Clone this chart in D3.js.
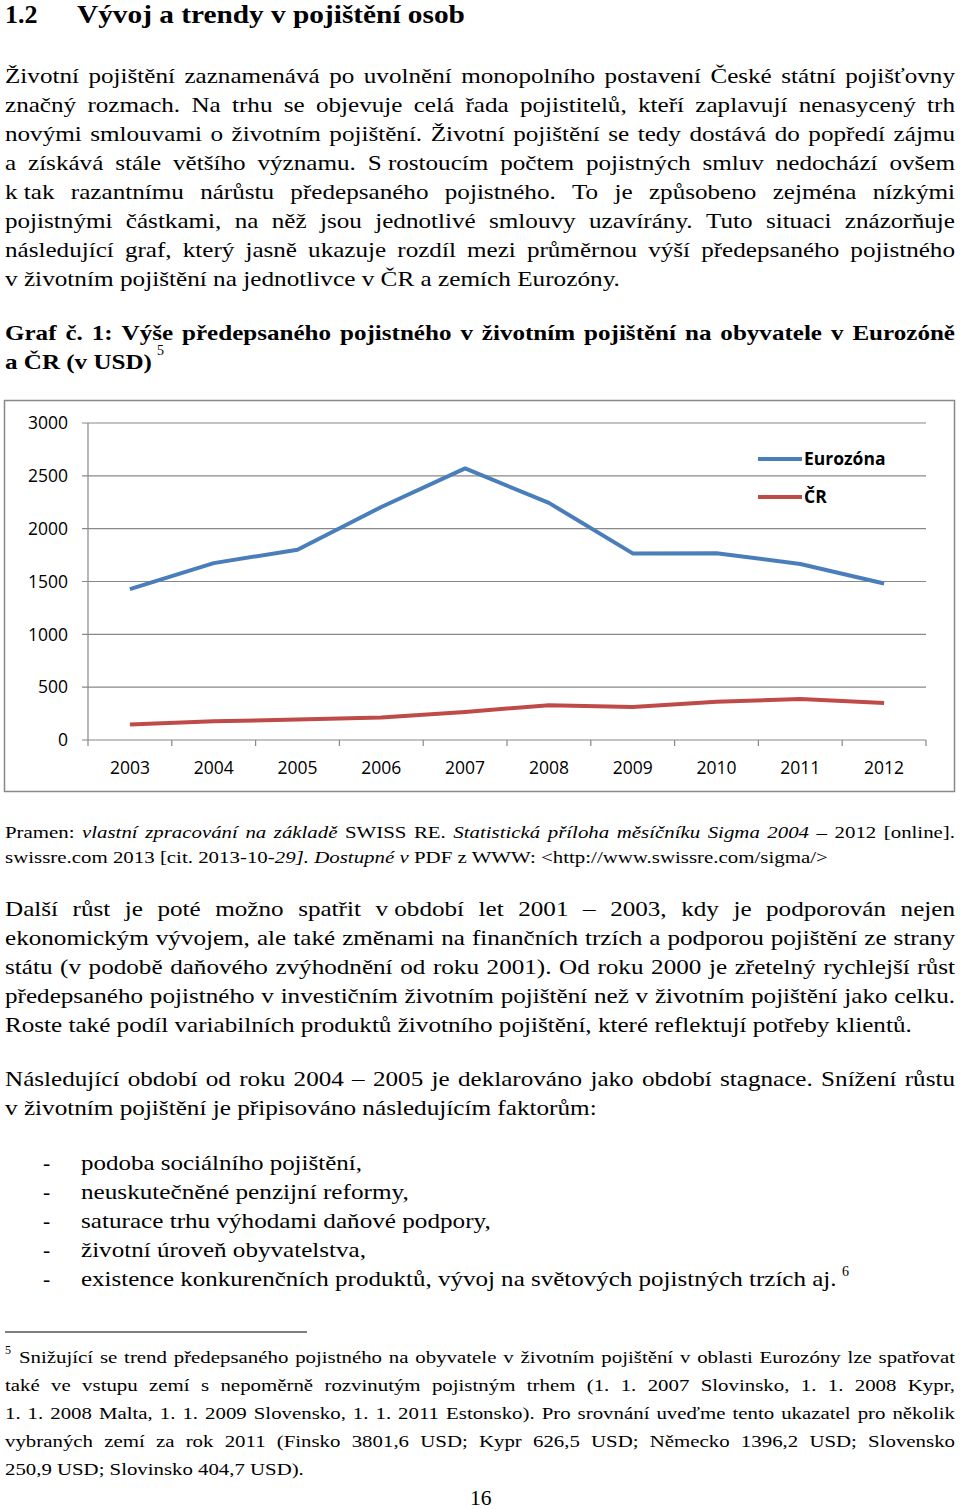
<!DOCTYPE html>
<html>
<head>
<meta charset="utf-8">
<script src="https://cdn.jsdelivr.net/npm/d3@7"></script>
<style>
  body { margin: 0; background: #fff; }
  svg { display: block; }
</style>
</head>
<body>
<svg id="page" width="960" height="1509"></svg>
<script>
// chart data
const years = ['2003', '2004', '2005', '2006', '2007', '2008', '2009', '2010', '2011', '2012']
const eurozona = [1427, 1674, 1801, 2205, 2570, 2244, 1766, 1768, 1665, 1481]
const cr = [146, 177, 193, 212, 266, 329, 313, 361, 389, 351]
const yTicks = [0, 500, 1000, 1500, 2000, 2500, 3000]
const seriesNames = ['Eurozóna', 'ČR']
const seriesColors = ['#4a7ebb', '#be4b48']

// page text, line by line (\u00a0 = space that is not stretched)
const para1 = [
  'Životní pojištění zaznamenává po uvolnění monopolního postavení České státní pojišťovny',
  'značný rozmach. Na trhu se objevuje celá řada pojistitelů, kteří zaplavují nenasycený trh',
  'novými smlouvami o životním pojištění. Životní pojištění se tedy dostává do popředí zájmu',
  'a získává stále většího významu. S\u00a0rostoucím počtem pojistných smluv nedochází ovšem',
  'k\u00a0tak razantnímu nárůstu předepsaného pojistného. To je způsobeno zejména nízkými',
  'pojistnými částkami, na něž jsou jednotlivé smlouvy uzavírány. Tuto situaci znázorňuje',
  'následující graf, který jasně ukazuje rozdíl mezi průměrnou výší předepsaného pojistného',
  'v životním pojištění na jednotlivce v ČR a zemích Eurozóny.'
]
const para2 = [
  'Další růst je poté možno spatřit v\u00a0období let 2001 – 2003, kdy je podporován nejen',
  'ekonomickým vývojem, ale také změnami na finančních trzích a podporou pojištění ze strany',
  'státu (v podobě daňového zvýhodnění od roku 2001). Od roku 2000 je zřetelný rychlejší růst',
  'předepsaného pojistného v investičním životním pojištění než v životním pojištění jako celku.',
  'Roste také podíl variabilních produktů životního pojištění, které reflektují potřeby klientů.'
]
const para3 = [
  'Následující období od roku 2004 – 2005 je deklarováno jako období stagnace. Snížení růstu',
  'v životním pojištění je připisováno následujícím faktorům:'
]
const bullets = [
  'podoba sociálního pojištění,',
  'neuskutečněné penzijní reformy,',
  'saturace trhu výhodami daňové podpory,',
  'životní úroveň obyvatelstva,',
  'existence konkurenčních produktů, vývoj na světových pojistných trzích aj.'
]
const bulletEnds = [362, 409, 491, 366, 837]
const footnote = [
  'Snižující se trend předepsaného pojistného na obyvatele v životním pojištění v oblasti Eurozóny lze spatřovat',
  'také ve vstupu zemí s nepoměrně rozvinutým pojistným trhem (1. 1. 2007 Slovinsko, 1. 1. 2008 Kypr,',
  '1. 1. 2008 Malta, 1. 1. 2009 Slovensko, 1. 1. 2011 Estonsko). Pro srovnání uveďme tento ukazatel pro několik',
  'vybraných zemí za rok 2011 (Finsko 3801,6 USD; Kypr 626,5 USD; Německo 1396,2 USD; Slovensko',
  '250,9 USD; Slovinsko 404,7 USD).'
]

const svg = d3.select('#page')

const serif = "'Liberation Serif', 'Times New Roman', serif"
const fonts = {
  head: { family: serif, size: 26, weight: 'bold' },
  body: { family: serif, size: 21.5, weight: 'normal' },
  cap: { family: serif, size: 21.5, weight: 'bold' },
  small: { family: serif, size: 17.5, weight: 'normal' }
}

function styleText(sel, f, it) {
  sel.style('font-family', f.family)
    .style('font-size', f.size + 'px')
    .style('font-weight', f.weight)
    .style('font-style', it ? 'italic' : 'normal')
    .attr('fill', '#000')
}

// single line stretched to end at a given x
function plainLine(l, f) {
  let g = svg.append('g')
  let t = g.append('text').style('white-space', 'pre')
  styleText(t, f, false)
  l.segs.forEach(([s, it]) => t.append('tspan').style('font-style', it ? 'italic' : 'normal').text(s))
  let w = t.node().getComputedTextLength()
  let k = l.end ? (l.end - l.x) / w : 1
  g.attr('transform', `translate(${l.x},${l.y}) scale(${k},1)`)
  return k
}

// justified line, words spread between x and end
function justLine(l, f, k) {
  let g = svg.append('g').attr('transform', `translate(${l.x},${l.y}) scale(${k},1)`)
  let toks = l.segs.flatMap(([s, it]) => s.split(' ').filter(Boolean).map(w => [w, it]))
  let nodes = toks.map(([w, it]) => {
    let t = g.append('text').style('white-space', 'pre').text(w)
    styleText(t, f, it)
    return t
  })
  let widths = nodes.map(n => n.node().getComputedTextLength())
  let gap = ((l.end - l.x) / k - d3.sum(widths)) / (toks.length - 1)
  let cx = 0
  nodes.forEach((n, i) => { n.attr('x', cx); cx += widths[i] + gap })
}

function sup(txt, x, y, size) {
  svg.append('text').attr('x', x).attr('y', y)
    .style('font-family', serif).style('font-size', size + 'px').text(txt)
}

// collect all lines
let lines = []
let L = (cls, segs, x, y, end, justify) => lines.push({ cls, segs, x, y, end, justify })

L('head', [['1.2', false]], 5, 23, 0, false)
L('head', [['Vývoj a trendy v pojištění osob', false]], 77, 23, 465, false)

para1.forEach((t, i) => {
  let last = i === para1.length - 1
  L('body', [[t, false]], 5, 83 + i * 29, last ? 620 : 955, !last)
})

L('cap', [['Graf č. 1: Výše předepsaného pojistného v životním pojištění na obyvatele v Eurozóně', false]], 5, 340, 955, true)
L('cap', [['a ČR (v USD)', false]], 5, 369, 152, false)

L('small', [['Pramen: ', false], ['vlastní zpracování na základě', true], [' SWISS RE. ', false],
  ['Statistická příloha měsíčníku Sigma 2004', true], [' – 2012 [online].', false]], 5, 838, 955, true)
L('small', [['swissre.com 2013 [cit. 2013-10-', false], ['29]. Dostupné v', true],
  [' PDF z WWW: <http://www.swissre.com/sigma/>', false]], 5, 863, 828, false)

para2.forEach((t, i) => {
  let last = i === para2.length - 1
  L('body', [[t, false]], 5, 916 + i * 29, last ? 912 : 955, !last)
})
para3.forEach((t, i) => {
  let last = i === para3.length - 1
  L('body', [[t, false]], 5, 1086 + i * 29, last ? 597 : 955, !last)
})
bullets.forEach((t, i) => {
  L('body', [['-', false]], 43, 1170 + i * 29, 0, false)
  L('body', [[t, false]], 81, 1170 + i * 29, bulletEnds[i], false)
})
footnote.forEach((t, i) => {
  let last = i === footnote.length - 1
  L('small', [[t, false]], i === 0 ? 19 : 5, 1363 + i * 28, last ? 304 : 955, !last)
})
L('body', [['16', false]], 470, 1505, 0, false)

// plain lines first, their fits give the stretch for the justified ones
let fits = {}
lines.filter(l => !l.justify).forEach(l => {
  let k = plainLine(l, fonts[l.cls])
  if (l.end && l.segs[0][0].length > 8) (fits[l.cls] = fits[l.cls] || []).push(k)
})
lines.filter(l => l.justify).forEach(l => {
  let k = fits[l.cls] ? d3.mean(fits[l.cls]) : 1
  justLine(l, fonts[l.cls], k)
})

sup('5', 157, 355, 14)
sup('6', 842, 1276, 14)
sup('5', 5, 1354, 12)

// footnote rule
svg.append('line').attr('x1', 5).attr('x2', 307).attr('y1', 1332).attr('y2', 1332)
  .attr('stroke', '#000').attr('stroke-width', 1)

// ---- chart ----
let chart = svg.append('g')

chart.append('rect')
  .attr('x', 4.5).attr('y', 400.5).attr('width', 950).attr('height', 391)
  .attr('fill', '#fff').attr('stroke', '#888').attr('stroke-width', 1.5)

let x = d3.scaleBand().domain(years).range([88, 926]).padding(0)
let y = d3.scaleLinear().domain([0, 3000]).range([740, 423])

// gridlines + left ticks
chart.append('g')
  .selectAll('line')
  .data(yTicks)
  .join('line')
  .attr('x1', 82).attr('x2', 926)
  .attr('y1', d => y(d)).attr('y2', d => y(d))
  .attr('stroke', '#888').attr('stroke-width', 1.2)

chart.append('line')
  .attr('x1', 88).attr('x2', 88).attr('y1', y(3000)).attr('y2', y(0))
  .attr('stroke', '#888').attr('stroke-width', 1.2)

// x ticks at band edges
let edges = years.map(d => x(d)).concat([x.range()[1]])
chart.append('g')
  .selectAll('line')
  .data(edges)
  .join('line')
  .attr('x1', d => d).attr('x2', d => d)
  .attr('y1', y(0)).attr('y2', y(0) + 6)
  .attr('stroke', '#888').attr('stroke-width', 1.2)

chart.append('g')
  .selectAll('text')
  .data(yTicks)
  .join('text')
  .attr('x', 68)
  .attr('y', d => y(d))
  .attr('dy', '0.36em')
  .attr('text-anchor', 'end')
  .attr('font-family', 'Open Sans')
  .attr('font-size', 17.5)
  .attr('fill', '#000')
  .text(d => d)

chart.append('g')
  .selectAll('text')
  .data(years)
  .join('text')
  .attr('x', d => x(d) + x.bandwidth() / 2)
  .attr('y', 774)
  .attr('text-anchor', 'middle')
  .attr('font-family', 'Open Sans')
  .attr('font-size', 17.5)
  .attr('fill', '#000')
  .text(d => d)

let line = d3.line()
  .x((d, i) => x(years[i]) + x.bandwidth() / 2)
  .y(d => y(d))

chart.append('g')
  .selectAll('path')
  .data([eurozona, cr])
  .join('path')
  .attr('d', d => line(d))
  .attr('fill', 'none')
  .attr('stroke', (d, i) => seriesColors[i])
  .attr('stroke-width', 4)
  .attr('stroke-linejoin', 'round')

// legend
let legend = chart.append('g')
  .selectAll('g')
  .data(seriesNames)
  .join('g')
  .attr('transform', (d, i) => `translate(758,${459 + i * 38})`)

legend.append('line')
  .attr('x1', 0).attr('x2', 44)
  .attr('stroke', (d, i) => seriesColors[i])
  .attr('stroke-width', 4)

legend.append('text')
  .attr('x', 46)
  .attr('dy', '0.36em')
  .attr('font-family', 'Open Sans')
  .attr('font-weight', 'bold')
  .attr('font-size', 17.5)
  .attr('fill', '#000')
  .text(d => d)
</script>
</body>
</html>
